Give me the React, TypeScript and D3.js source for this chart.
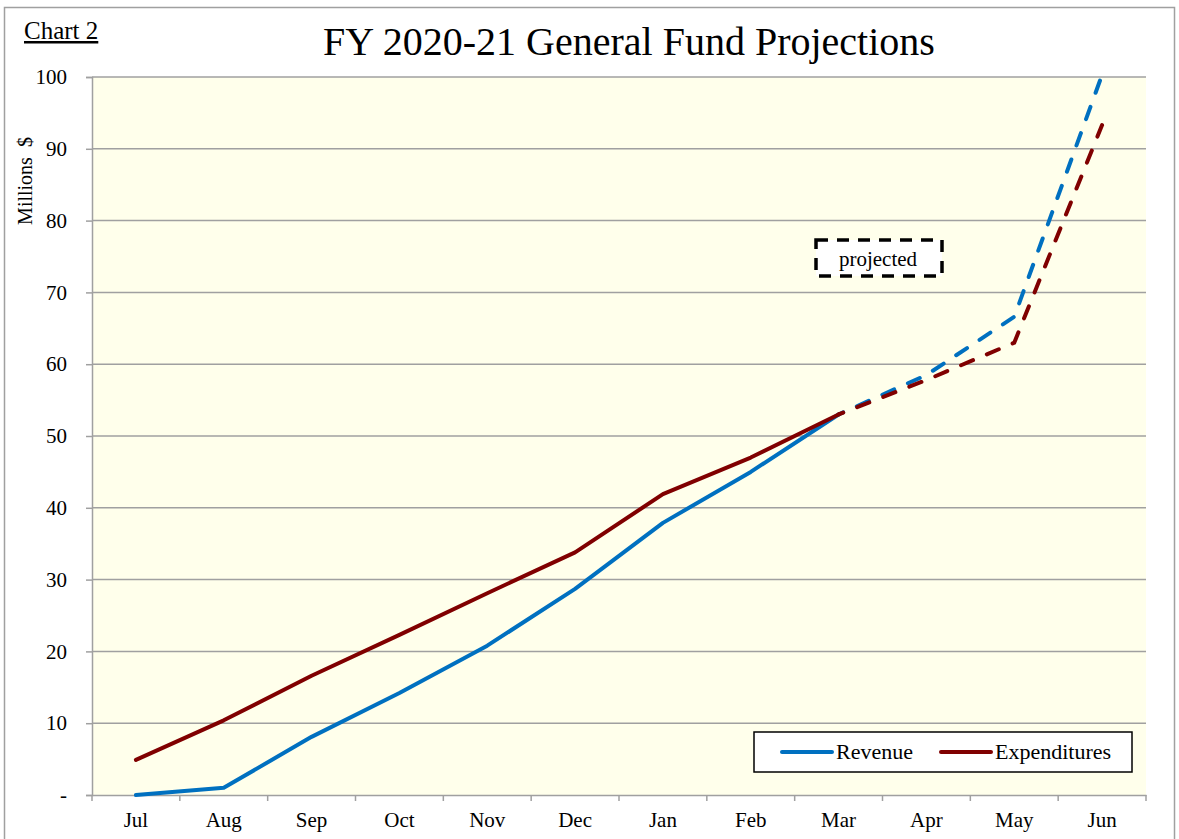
import React, { useRef, useEffect } from 'react';
import * as d3 from 'd3';

const months = ['Jul', 'Aug', 'Sep', 'Oct', 'Nov', 'Dec', 'Jan', 'Feb', 'Mar', 'Apr', 'May', 'Jun'];
const revenue = [0, 1.0, 8.1, 14.2, 20.8, 28.7, 37.9, 45.0, 53.0, 58.5, 66.6, 100.3];
const expenditures = [4.9, 10.4, 16.6, 22.3, 28.1, 33.8, 41.9, 47.0, 53.0, 57.8, 63.0, 93.3];
const yTicks = [0, 10, 20, 30, 40, 50, 60, 70, 80, 90, 100];
const lastActual = 8; // Mar, after which values are projected

const FONT = '"Liberation Serif", "Times New Roman", serif';

const App = () => {
  const ref = useRef(null);

  useEffect(() => {
    const svg = d3.select(ref.current);
    svg.selectAll('*').remove();
    const left = 92, right = 1146, top = 77, bottom = 795;

    const x = d3.scaleBand().domain(months).range([left, right]).padding(0);
    const y = d3.scaleLinear().domain([0, 100]).range([bottom, top]);
    const cx = (m) => x(m) + x.bandwidth() / 2;

    // outer frame
    svg.append('rect')
      .attr('x', 4.5).attr('y', 7.5).attr('width', 1170).attr('height', 840)
      .attr('fill', 'white').attr('stroke', '#a0a0a0').attr('stroke-width', 1.5);

    svg.append('rect')
      .attr('x', left).attr('y', top).attr('width', right - left).attr('height', bottom - top)
      .attr('fill', '#ffffeb');

    // gridlines
    svg.append('g').selectAll('line').data(yTicks.slice(1)).enter().append('line')
      .attr('x1', left).attr('x2', right)
      .attr('y1', (d) => y(d)).attr('y2', (d) => y(d))
      .attr('stroke', '#a0a0a0').attr('stroke-width', 1.5);

    // y axis
    const ya = svg.append('g').attr('transform', `translate(${left},0)`)
      .call(d3.axisLeft(y).tickValues(yTicks).tickSize(6).tickPadding(19)
        .tickFormat((d) => (d === 0 ? '-' : String(d))));
    ya.select('.domain').attr('stroke', '#a0a0a0').attr('stroke-width', 1.5);
    ya.selectAll('line').attr('stroke', '#a0a0a0').attr('stroke-width', 1.5);
    ya.selectAll('text').attr('font-family', FONT).attr('font-size', 21).attr('fill', '#000');

    // x axis
    const xa = svg.append('g').attr('transform', `translate(0,${bottom})`)
      .call(d3.axisBottom(x).tickSize(0).tickPadding(17));
    xa.select('.domain').attr('stroke', '#a0a0a0').attr('stroke-width', 1.5);
    xa.selectAll('text').attr('font-family', FONT).attr('font-size', 21).attr('fill', '#000');
    xa.selectAll('line.bnd').data(d3.range(months.length + 1)).enter().append('line')
      .attr('x1', (i) => left + i * x.bandwidth()).attr('x2', (i) => left + i * x.bandwidth())
      .attr('y1', 0).attr('y2', 6)
      .attr('stroke', '#a0a0a0').attr('stroke-width', 1.5);

    const line = d3.line().x((d) => cx(d[0])).y((d) => y(d[1]));
    const series = [
      { name: 'Revenue', values: revenue, color: '#0070c0' },
      { name: 'Expenditures', values: expenditures, color: '#800000' },
    ];
    const plot = svg.append('g');
    series.forEach((s) => {
      const pts = months.map((m, i) => [m, s.values[i]]);
      plot.append('path').datum(pts.slice(0, lastActual + 1))
        .attr('d', line).attr('fill', 'none').attr('stroke', s.color)
        .attr('stroke-width', 4).attr('stroke-linecap', 'round').attr('stroke-linejoin', 'round');
      plot.append('path').datum(pts.slice(lastActual))
        .attr('d', line).attr('fill', 'none').attr('stroke', s.color)
        .attr('stroke-width', 4).attr('stroke-linecap', 'round')
        .attr('stroke-dasharray', '13 15').attr('stroke-dashoffset', -20);
    });

    // projected box
    svg.append('rect')
      .attr('x', 816).attr('y', 240).attr('width', 126).attr('height', 36)
      .attr('fill', 'white').attr('stroke', '#000').attr('stroke-width', 3.5)
      .attr('stroke-dasharray', '12 9');
    svg.append('text').attr('x', 878).attr('y', 266).attr('text-anchor', 'middle')
      .attr('font-family', FONT).attr('font-size', 21).text('projected');

    // legend
    const lg = svg.append('g');
    lg.append('rect').attr('x', 754).attr('y', 732).attr('width', 378).attr('height', 40)
      .attr('fill', 'white').attr('stroke', '#000').attr('stroke-width', 1.5);
    const lx = [782, 941];
    series.forEach((s, i) => {
      lg.append('line').attr('x1', lx[i]).attr('x2', lx[i] + 50).attr('y1', 752).attr('y2', 752)
        .attr('stroke', s.color).attr('stroke-width', 4).attr('stroke-linecap', 'round');
      lg.append('text').attr('x', lx[i] + 54).attr('y', 759)
        .attr('font-family', FONT).attr('font-size', 22).text(s.name);
    });

    // titles
    svg.append('text').attr('x', 629).attr('y', 55).attr('text-anchor', 'middle')
      .attr('font-family', FONT).attr('font-size', 40).text('FY 2020-21 General Fund Projections');
    svg.append('text').attr('x', 24).attr('y', 39)
      .attr('font-family', FONT).attr('font-size', 25).attr('text-decoration', 'underline')
      .text('Chart 2');
    svg.append('text').attr('transform', 'translate(32,181) rotate(-90)').attr('text-anchor', 'middle')
      .attr('font-family', FONT).attr('font-size', 20).attr('xml:space', 'preserve')
      .text('Millions  $');
  }, []);

  return (
    <svg ref={ref} width="1179" height="839" style={{ display: 'block', position: 'absolute', left: 0, top: 0 }}></svg>
  );
};

export default App;
